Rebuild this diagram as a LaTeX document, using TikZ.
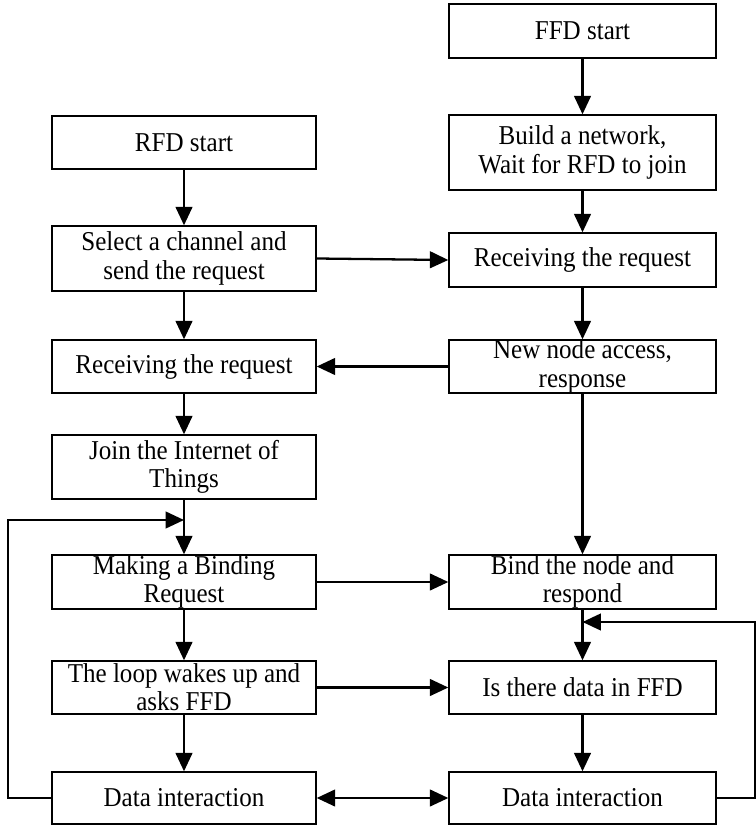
\documentclass[tikz,border=0pt]{standalone}
\usepackage{fontspec}
\setmainfont{Liberation Serif}[FakeStretch=0.92]
\usetikzlibrary{arrows.meta}
\begin{document}
\begin{tikzpicture}[box/.style={draw, line width=0.8pt, align=center, inner sep=0pt, font=\fontsize{15.5}{16}\selectfont},
arr/.style={line width=1.3pt, -{Triangle[length=10.5pt, width=9.5pt]}}]
\useasboundingbox (0,0) rectangle (15.1,-16.52);
\node[box, minimum width=5.34cm, minimum height=1.08cm] (ffd0) at (11.65,-0.62){FFD start};
\node[box, minimum width=5.34cm, minimum height=1.5cm] (ffd1) at (11.65,-3.05){Build a network,\\Wait for RFD to join};
\node[box, minimum width=5.28cm, minimum height=1.06cm] (rfd0) at (3.68,-2.85){RFD start};
\node[box, minimum width=5.28cm, minimum height=1.3cm] (rfd1) at (3.68,-5.17){Select a channel and\\send the request};
\node[box, minimum width=5.34cm, minimum height=1.08cm] (ffd2) at (11.65,-5.2){Receiving the request};
\node[box, minimum width=5.28cm, minimum height=1.06cm] (rfd2) at (3.68,-7.33){Receiving the request};
\node[box, minimum width=5.34cm, minimum height=1.06cm] (ffd3) at (11.65,-7.33){New node access,\\response};
\node[box, minimum width=5.28cm, minimum height=1.28cm] (rfd3) at (3.68,-9.34){Join the Internet of\\Things};
\node[box, minimum width=5.28cm, minimum height=1.08cm] (rfd4) at (3.68,-11.64){Making a Binding\\Request};
\node[box, minimum width=5.34cm, minimum height=1.08cm] (ffd4) at (11.65,-11.64){Bind the node and\\respond};
\node[box, minimum width=5.28cm, minimum height=1.06cm] (rfd5) at (3.68,-13.75){The loop wakes up and\\asks FFD};
\node[box, minimum width=5.34cm, minimum height=1.06cm] (ffd5) at (11.65,-13.75){Is there data in FFD};
\node[box, minimum width=5.28cm, minimum height=1.04cm] (rfd6) at (3.68,-15.96){Data interaction};
\node[box, minimum width=5.34cm, minimum height=1.04cm] (ffd6) at (11.65,-15.96){Data interaction};
\coordinate (lmerge) at (3.68,-10.4);
\coordinate (lcorner) at (0.16,-10.4);
\coordinate (rmerge) at (11.65,-12.44);
\coordinate (rcorner) at (15.1,-12.44);
\draw[arr](ffd0) -- (ffd1);
\draw[arr](ffd1) -- (ffd2);
\draw[arr](ffd2) -- (ffd3);
\draw[arr](ffd3) -- (ffd4);
\draw[arr](ffd4) -- (ffd5);
\draw[arr](ffd5) -- (ffd6);
\draw[arr](rfd0) -- (rfd1);
\draw[arr](rfd1) -- (rfd2);
\draw[arr](rfd2) -- (rfd3);
\draw[arr](rfd3) -- (rfd4);
\draw[arr](rfd4) -- (rfd5);
\draw[arr](rfd5) -- (rfd6);
\draw[arr](rfd1.east) -- (ffd2.west);
\draw[arr](ffd3.west) -- (rfd2.east);
\draw[arr](rfd4.east) -- (ffd4.west);
\draw[arr](rfd5.east) -- (ffd5.west);
\draw[arr, {Triangle[length=10.5pt, width=9.5pt]}-{Triangle[length=10.5pt, width=9.5pt]}](rfd6.east) -- (ffd6.west);
\draw[arr](rfd6.west) -| (lcorner) -- (lmerge);
\draw[arr](ffd6.east) -| (rcorner) -- (rmerge);
\end{tikzpicture}
\end{document}
